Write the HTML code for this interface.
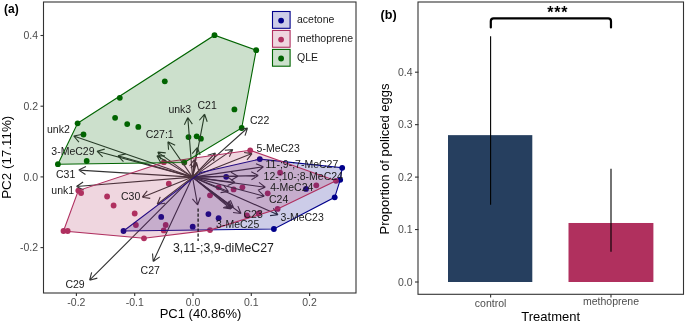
<!DOCTYPE html>
<html><head><meta charset="utf-8"><style>
html,body{margin:0;padding:0;background:#fff;}
body{width:685px;height:323px;overflow:hidden;}
svg{display:block;will-change:transform;font-family:"Liberation Sans", sans-serif;}
</style></head><body>
<svg width="685" height="323" viewBox="0 0 685 323">
<rect width="685" height="323" fill="#ffffff"/>
<circle cx="123.5" cy="231" r="2.9" fill="#00008B"/>
<circle cx="259.8" cy="159.1" r="2.9" fill="#00008B"/>
<circle cx="342.2" cy="167.8" r="2.9" fill="#00008B"/>
<circle cx="340.2" cy="179.8" r="2.9" fill="#00008B"/>
<circle cx="334.7" cy="197.3" r="2.9" fill="#00008B"/>
<circle cx="273.9" cy="229" r="2.9" fill="#00008B"/>
<circle cx="161.2" cy="216.9" r="2.9" fill="#00008B"/>
<circle cx="192.7" cy="226.7" r="2.9" fill="#00008B"/>
<circle cx="208.4" cy="214.1" r="2.9" fill="#00008B"/>
<circle cx="218.6" cy="218.2" r="2.9" fill="#00008B"/>
<circle cx="226.2" cy="176.8" r="2.9" fill="#00008B"/>
<circle cx="306" cy="188.9" r="2.9" fill="#00008B"/>
<circle cx="63.5" cy="231" r="2.9" fill="#B03060"/>
<circle cx="78.3" cy="190.6" r="2.9" fill="#B03060"/>
<circle cx="163.9" cy="162.2" r="2.9" fill="#B03060"/>
<circle cx="250.2" cy="150.3" r="2.9" fill="#B03060"/>
<circle cx="336" cy="180.8" r="2.9" fill="#B03060"/>
<circle cx="277.6" cy="208.9" r="2.9" fill="#B03060"/>
<circle cx="210" cy="230.1" r="2.9" fill="#B03060"/>
<circle cx="144" cy="238.3" r="2.9" fill="#B03060"/>
<circle cx="67.7" cy="231" r="2.9" fill="#B03060"/>
<circle cx="81.1" cy="193" r="2.9" fill="#B03060"/>
<circle cx="107.1" cy="196.5" r="2.9" fill="#B03060"/>
<circle cx="113.6" cy="205.5" r="2.9" fill="#B03060"/>
<circle cx="168.8" cy="183.7" r="2.9" fill="#B03060"/>
<circle cx="134.7" cy="213.5" r="2.9" fill="#B03060"/>
<circle cx="135.9" cy="225" r="2.9" fill="#B03060"/>
<circle cx="165.7" cy="225" r="2.9" fill="#B03060"/>
<circle cx="163.7" cy="230.4" r="2.9" fill="#B03060"/>
<circle cx="210" cy="195.3" r="2.9" fill="#B03060"/>
<circle cx="218.6" cy="187.3" r="2.9" fill="#B03060"/>
<circle cx="233.6" cy="189.4" r="2.9" fill="#B03060"/>
<circle cx="242.4" cy="187.3" r="2.9" fill="#B03060"/>
<circle cx="267.7" cy="193.3" r="2.9" fill="#B03060"/>
<circle cx="280.1" cy="172.7" r="2.9" fill="#B03060"/>
<circle cx="316.3" cy="185.3" r="2.9" fill="#B03060"/>
<circle cx="246.9" cy="215.4" r="2.9" fill="#B03060"/>
<circle cx="258.6" cy="213.4" r="2.9" fill="#B03060"/>
<circle cx="77.6" cy="123.3" r="2.9" fill="#006400"/>
<circle cx="214.5" cy="35.2" r="2.9" fill="#006400"/>
<circle cx="256.2" cy="50.2" r="2.9" fill="#006400"/>
<circle cx="241.7" cy="128" r="2.9" fill="#006400"/>
<circle cx="184.3" cy="162.5" r="2.9" fill="#006400"/>
<circle cx="57.9" cy="164.2" r="2.9" fill="#006400"/>
<circle cx="119.8" cy="97.8" r="2.9" fill="#006400"/>
<circle cx="164.8" cy="81.3" r="2.9" fill="#006400"/>
<circle cx="115.1" cy="117.8" r="2.9" fill="#006400"/>
<circle cx="127.2" cy="124.1" r="2.9" fill="#006400"/>
<circle cx="138.3" cy="126.9" r="2.9" fill="#006400"/>
<circle cx="83.5" cy="134.5" r="2.9" fill="#006400"/>
<circle cx="86.7" cy="161" r="2.9" fill="#006400"/>
<circle cx="234.4" cy="109.4" r="2.9" fill="#006400"/>
<circle cx="188.5" cy="137.1" r="2.9" fill="#006400"/>
<circle cx="196.7" cy="136.3" r="2.9" fill="#006400"/>
<circle cx="200.9" cy="138.7" r="2.9" fill="#006400"/>
<g fill="none" stroke="#333333" stroke-width="1.1">
<path d="M192.5 177.1L187.8 117.5M184.36 124.72L187.8 117.5M192.33 124.09L187.8 117.5"/>
<path d="M192.5 177.1L204.6 114.2M199.36 120.25L204.6 114.2M207.22 121.76L204.6 114.2"/>
<path d="M192.5 177.1L247.5 128M239.67 129.63L247.5 128M245 135.6L247.5 128"/>
<path d="M192.5 177.1L167.9 141.8M168.58 149.77L167.9 141.8M175.14 145.2L167.9 141.8"/>
<path d="M192.5 177.1L73.7 136M78.94 142.05L73.7 136M81.56 134.48L73.7 136"/>
<path d="M192.5 177.1L97 151.2M102.64 156.87L97 151.2M104.73 149.15L97 151.2"/>
<path d="M192.5 177.1L78.8 170.1M85.47 174.52L78.8 170.1M85.96 166.53L78.8 170.1"/>
<path d="M192.5 177.1L76.5 186.5M83.73 189.93L76.5 186.5M83.08 181.95L76.5 186.5"/>
<path d="M192.5 177.1L142.3 197.2M150.22 198.34L142.3 197.2M147.24 190.91L142.3 197.2"/>
<path d="M192.5 177.1L157.2 204.3M165.13 203.24L157.2 204.3M160.25 196.9L157.2 204.3"/>
<path d="M192.5 177.1L252 153.6M244.09 152.42L252 153.6M247.03 159.87L252 153.6"/>
<path d="M192.5 177.1L263.4 166.8M255.97 163.84L263.4 166.8M257.12 171.75L263.4 166.8"/>
<path d="M192.5 177.1L258.3 175.6M251.28 171.76L258.3 175.6M251.46 179.76L258.3 175.6"/>
<path d="M192.5 177.1L265.3 187.3M258.99 182.38L265.3 187.3M257.88 190.3L265.3 187.3"/>
<path d="M192.5 177.1L264.3 196.2M258.63 190.55L264.3 196.2M256.58 198.28L264.3 196.2"/>
<path d="M192.5 177.1L241 213.5M237.86 206.14L241 213.5M233.06 212.54L241 213.5"/>
<path d="M192.5 177.1L278 214.8M273.27 208.34L278 214.8M270.05 215.66L278 214.8"/>
<path d="M192.5 177.1L232 208.2M229.03 200.77L232 208.2M224.08 207.06L232 208.2"/>
<path d="M192.5 177.1L197.6 205M200.29 197.47L197.6 205M192.42 198.9L197.6 205"/>
<path d="M192.5 177.1L153.2 261.5M159.75 256.91L153.2 261.5M152.5 253.53L153.2 261.5"/>
<path d="M192.5 177.1L89.6 280.2M97.33 278.12L89.6 280.2M91.66 272.47L89.6 280.2"/>
<path d="M192.5 177.1L215.4 153M207.73 155.27L215.4 153M213.53 160.78L215.4 153"/>
<path d="M192.5 177.1L232.8 149.6M224.82 150.2L232.8 149.6M229.33 156.81L232.8 149.6"/>
<path d="M192.5 177.1L157.8 152.1M161.08 159.4L157.8 152.1M165.76 152.9L157.8 152.1"/>
<path d="M192.5 177.1L156.9 155.8M160.79 162.79L156.9 155.8M164.9 155.92L156.9 155.8"/>
<path d="M192.5 177.1L117.9 155.8M123.46 161.55L117.9 155.8M125.66 153.86L117.9 155.8"/>
<path d="M192.5 177.1L238 176.2M230.99 172.34L238 176.2M231.15 180.34L238 176.2"/>
<path d="M192.5 177.1L197.3 147.5M192.24 153.7L197.3 147.5M200.14 154.98L197.3 147.5"/>
<path d="M192.5 177.1L194.3 159.5M189.62 165.99L194.3 159.5M197.57 166.8L194.3 159.5"/>
<path d="M192.5 177.1L196.5 162.5M190.81 168.13L196.5 162.5M198.53 170.24L196.5 162.5"/>
<path d="M192.5 177.1L228.5 191.5M223.55 185.21L228.5 191.5M220.58 192.64L228.5 191.5"/>
<path d="M192.5 177.1L233.5 207.5M230.32 200.16L233.5 207.5M225.55 206.59L233.5 207.5"/>
<path d="M192.5 177.1L231 209M228.22 201.5L231 209M223.11 207.66L231 209"/>
<path d="M192.5 177.1L235 182.5M228.63 177.66L235 182.5M227.62 185.59L235 182.5"/>
</g>
<polygon points="123.5,231 201,172.4 259.8,159.1 342.2,167.8 340.2,179.8 334.7,197.3 273.9,229" fill="#00008B" fill-opacity="0.2" stroke="#00008B" stroke-width="1.1"/>
<polygon points="63.5,231 78.3,190.6 163.9,162.2 250.2,150.3 336,180.8 277.6,208.9 210,230.1 144,238.3" fill="#B03060" fill-opacity="0.2" stroke="#B03060" stroke-width="1.1"/>
<polygon points="77.6,123.3 214.5,35.2 256.2,50.2 241.7,128 184.3,162.5 57.9,164.2" fill="#006400" fill-opacity="0.2" stroke="#006400" stroke-width="1.1"/>
<line x1="198.1" y1="208.5" x2="198.1" y2="241" stroke="#111" stroke-width="1.2" stroke-dasharray="3.2,1.8"/>
<text x="47" y="133" font-size="10.5" fill="#1a1a1a">unk2</text>
<text x="51.3" y="154.5" font-size="10.5" fill="#1a1a1a">3-MeC29</text>
<text x="56" y="177.6" font-size="10.5" fill="#1a1a1a">C31</text>
<text x="51.3" y="193.8" font-size="10.5" fill="#1a1a1a">unk1</text>
<text x="121" y="200.4" font-size="10.5" fill="#1a1a1a">C30</text>
<text x="168.4" y="112.6" font-size="10.5" fill="#1a1a1a">unk3</text>
<text x="197.5" y="108.9" font-size="10.5" fill="#1a1a1a">C21</text>
<text x="250" y="124" font-size="10.5" fill="#1a1a1a">C22</text>
<text x="145.7" y="137.7" font-size="10.5" fill="#1a1a1a">C27:1</text>
<text x="256.6" y="152.1" font-size="10.5" fill="#1a1a1a">5-MeC23</text>
<text x="265.5" y="167.5" font-size="10.5" fill="#1a1a1a">11-;9-;7-MeC27</text>
<text x="263.6" y="179.9" font-size="10.5" fill="#1a1a1a">12-;10-;8-MeC24</text>
<text x="270.2" y="191.1" font-size="10.5" fill="#1a1a1a">4-MeC24</text>
<text x="269" y="203.2" font-size="10.5" fill="#1a1a1a">C24</text>
<text x="243.5" y="217.5" font-size="10.5" fill="#1a1a1a">C23</text>
<text x="280.6" y="221" font-size="10.5" fill="#1a1a1a">3-MeC23</text>
<text x="216.1" y="227.7" font-size="10.5" fill="#1a1a1a">3-MeC25</text>
<text x="173" y="252" font-size="12.3" fill="#1a1a1a">3,11-;3,9-diMeC27</text>
<text x="140.6" y="273.6" font-size="10.5" fill="#1a1a1a">C27</text>
<text x="65.4" y="287.9" font-size="10.5" fill="#1a1a1a">C29</text>
<rect x="272.5" y="11.5" width="17.6" height="16.8" fill="#fff"/>
<rect x="272.5" y="11.5" width="17.6" height="16.8" fill="#00008B" fill-opacity="0.2" stroke="#00008B" stroke-width="1.1"/>
<circle cx="281.1" cy="20.6" r="2.9" fill="#00008B"/>
<text x="297" y="23.2" font-size="10.5" fill="#1a1a1a">acetone</text>
<rect x="272.5" y="30.45" width="17.6" height="16.8" fill="#fff"/>
<rect x="272.5" y="30.45" width="17.6" height="16.8" fill="#B03060" fill-opacity="0.2" stroke="#B03060" stroke-width="1.1"/>
<circle cx="281.1" cy="39.55" r="2.9" fill="#B03060"/>
<text x="297" y="42.15" font-size="10.5" fill="#1a1a1a">methoprene</text>
<rect x="272.5" y="49.4" width="17.6" height="16.8" fill="#fff"/>
<rect x="272.5" y="49.4" width="17.6" height="16.8" fill="#006400" fill-opacity="0.2" stroke="#006400" stroke-width="1.1"/>
<circle cx="281.1" cy="58.5" r="2.9" fill="#006400"/>
<text x="297" y="61.1" font-size="10.5" fill="#1a1a1a">QLE</text>
<rect x="43.5" y="2" width="312.5" height="291" fill="none" stroke="#333333" stroke-width="1.1"/>
<line x1="40.5" y1="35.5" x2="43.5" y2="35.5" stroke="#333333" stroke-width="1.1"/>
<text x="38" y="39.3" font-size="10.5" fill="#4d4d4d" text-anchor="end">0.4</text>
<line x1="40.5" y1="106.2" x2="43.5" y2="106.2" stroke="#333333" stroke-width="1.1"/>
<text x="38" y="110" font-size="10.5" fill="#4d4d4d" text-anchor="end">0.2</text>
<line x1="40.5" y1="176.9" x2="43.5" y2="176.9" stroke="#333333" stroke-width="1.1"/>
<text x="38" y="180.7" font-size="10.5" fill="#4d4d4d" text-anchor="end">0.0</text>
<line x1="40.5" y1="247.6" x2="43.5" y2="247.6" stroke="#333333" stroke-width="1.1"/>
<text x="38" y="251.4" font-size="10.5" fill="#4d4d4d" text-anchor="end">-0.2</text>
<line x1="76.4" y1="293" x2="76.4" y2="296" stroke="#333333" stroke-width="1.1"/>
<text x="76.4" y="306" font-size="10.5" fill="#4d4d4d" text-anchor="middle">-0.2</text>
<line x1="134.7" y1="293" x2="134.7" y2="296" stroke="#333333" stroke-width="1.1"/>
<text x="134.7" y="306" font-size="10.5" fill="#4d4d4d" text-anchor="middle">-0.1</text>
<line x1="193" y1="293" x2="193" y2="296" stroke="#333333" stroke-width="1.1"/>
<text x="193" y="306" font-size="10.5" fill="#4d4d4d" text-anchor="middle">0.0</text>
<line x1="251.3" y1="293" x2="251.3" y2="296" stroke="#333333" stroke-width="1.1"/>
<text x="251.3" y="306" font-size="10.5" fill="#4d4d4d" text-anchor="middle">0.1</text>
<line x1="309.6" y1="293" x2="309.6" y2="296" stroke="#333333" stroke-width="1.1"/>
<text x="309.6" y="306" font-size="10.5" fill="#4d4d4d" text-anchor="middle">0.2</text>
<text x="200.5" y="318.4" font-size="13" fill="#000" text-anchor="middle">PC1 (40.86%)</text>
<text transform="translate(11.0,157.3) rotate(-90)" font-size="13.4" fill="#000" text-anchor="middle">PC2 (17.11%)</text>
<text x="4" y="13" font-size="12" font-weight="bold" fill="#000">(a)</text>
<rect x="448" y="135.14" width="84.3" height="146.86" fill="#263f5f"/>
<rect x="568.5" y="222.99" width="84.9" height="59.01" fill="#b0305e"/>
<line x1="490.6" y1="36.3" x2="490.6" y2="204.8" stroke="#000" stroke-width="1.1"/>
<line x1="611" y1="168.8" x2="611" y2="251.8" stroke="#000" stroke-width="1.1"/>
<path d="M490.8 27.4 V21.2 Q490.8 18.4 493.6 18.4 H608.2 Q611 18.4 611 21.2 V27.4" fill="none" stroke="#000" stroke-width="2.2" stroke-linecap="round"/>
<text x="547.3" y="17.9" font-size="16" font-weight="bold" fill="#000" letter-spacing="0.7">***</text>
<rect x="418" y="2" width="265.5" height="292.3" fill="none" stroke="#333333" stroke-width="1.1"/>
<line x1="415" y1="282" x2="418.5" y2="282" stroke="#333333" stroke-width="1.1"/>
<text x="412.5" y="285.8" font-size="10.5" fill="#4d4d4d" text-anchor="end">0.0</text>
<line x1="415" y1="229.55" x2="418.5" y2="229.55" stroke="#333333" stroke-width="1.1"/>
<text x="412.5" y="233.35" font-size="10.5" fill="#4d4d4d" text-anchor="end">0.1</text>
<line x1="415" y1="177.1" x2="418.5" y2="177.1" stroke="#333333" stroke-width="1.1"/>
<text x="412.5" y="180.9" font-size="10.5" fill="#4d4d4d" text-anchor="end">0.2</text>
<line x1="415" y1="124.65" x2="418.5" y2="124.65" stroke="#333333" stroke-width="1.1"/>
<text x="412.5" y="128.45" font-size="10.5" fill="#4d4d4d" text-anchor="end">0.3</text>
<line x1="415" y1="72.2" x2="418.5" y2="72.2" stroke="#333333" stroke-width="1.1"/>
<text x="412.5" y="76" font-size="10.5" fill="#4d4d4d" text-anchor="end">0.4</text>
<line x1="490.6" y1="294.3" x2="490.6" y2="297.5" stroke="#333333" stroke-width="1.1"/>
<text x="490.6" y="306.8" font-size="10.5" fill="#4d4d4d" text-anchor="middle">control</text>
<line x1="611" y1="294.3" x2="611" y2="297.5" stroke="#333333" stroke-width="1.1"/>
<text x="611" y="305.3" font-size="10.5" fill="#4d4d4d" text-anchor="middle">methoprene</text>
<text x="550.7" y="320.7" font-size="13" fill="#000" text-anchor="middle">Treatment</text>
<text transform="translate(389.2,159) rotate(-90)" font-size="13" fill="#000" text-anchor="middle">Proportion of policed eggs</text>
<text x="380.6" y="19" font-size="12.6" font-weight="bold" fill="#000">(b)</text>
</svg>
</body></html>
